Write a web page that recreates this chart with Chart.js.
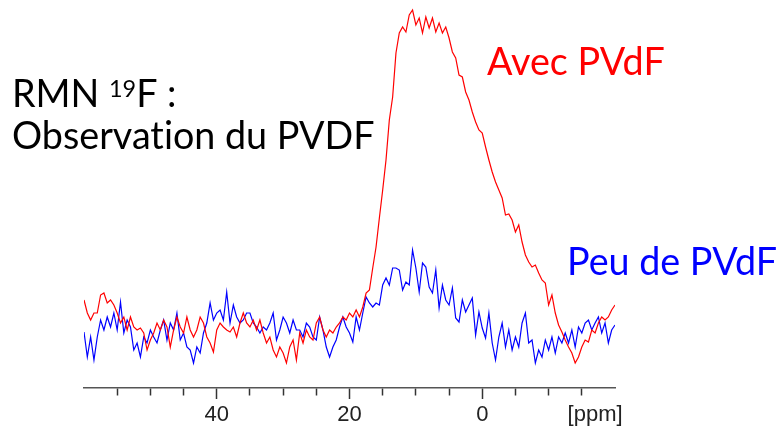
<!DOCTYPE html>
<html lang="fr">
<head>
<meta charset="utf-8">
<title>RMN 19F - PVDF</title>
<script src="https://cdn.jsdelivr.net/npm/chart.js@4.4.0/dist/chart.umd.min.js"></script>
<style>
  html, body { margin: 0; padding: 0; background: #fff; }
  canvas { display: block; }
</style>
</head>
<body>
<canvas id="spectre" width="782" height="429"></canvas>
<script>
// shift axis: 60 -> -20 ppm, one point every 0.5 ppm
const ppmStart = 60;
const ppmStep = -0.5;

// intensities (arbitrary units, 0 = axis line)
const avecPvdf = [
  88,75,68,75,75,93,95,85,88,83,75,65,71,58,71,61,58,60,55,38,48,55,65,58,68,61,41,58,71,61,55,71,58,51,58,71,65,51,45,36,58,65,61,58,56,
  61,51,65,75,65,61,68,58,68,55,45,51,38,31,41,35,25,41,48,28,55,45,58,51,48,65,71,58,51,58,55,61,65,71,68,75,71,78,71,81,95,98,
  120,141,170,198,228,268,291,335,355,361,356,373,378,363,370,355,371,360,370,356,365,355,361,350,336,330,313,311,296,288,276,266,258,255,241,228,
  216,206,198,190,173,174,168,156,163,146,133,126,121,123,115,108,105,83,93,75,63,56,48,41,35,25,31,41,48,46,58,55,65,71,68,71,78,83
];
const peuPvdf = [
  56,31,51,28,51,68,58,71,61,75,58,86,55,68,61,38,45,31,51,45,58,51,45,58,68,48,65,58,75,48,55,41,38,25,41,35,55,65,85,68,75,78,68,96,65,
  83,71,65,68,75,75,65,61,55,61,58,65,75,48,58,71,65,55,68,58,58,51,65,61,51,48,71,58,41,31,41,48,61,71,61,55,46,71,58,75,91,85,
  81,85,83,103,110,103,120,120,118,98,106,103,138,120,96,125,121,101,95,118,80,103,88,83,100,70,66,88,76,83,90,53,76,60,50,75,
  45,28,51,65,41,58,38,51,41,65,75,45,48,25,38,31,48,38,51,35,51,45,55,45,58,41,61,55,65,68,58,65,71,55,65,45,58,63
];

const labelledTicks = [40, 20, 0];
const unitLabel = '[ppm]';
const unitAt = -17;

function toPoints(values) {
  return values.map(function (v, i) { return { x: ppmStart + i * ppmStep, y: v }; });
}

// titles and series names, drawn as plain text on top
// (\u200C keeps Lato from joining "ti")
const textPlugin = {
  id: 'textes',
  afterDraw(chart) {
    const c = chart.ctx;
    const line2 = 'Observat\u200Cion du PVDF';
    c.save();
    c.textBaseline = 'alphabetic';
    c.textAlign = 'left';
    c.font = '36px Lato';
    const size = 36 * 363 / c.measureText(line2).width;
    const big = size.toFixed(1) + 'px Lato';
    const sup = (size * 0.62).toFixed(1) + 'px Lato';

    c.fillStyle = '#000';
    c.font = big;
    let x = 12;
    c.fillText('RMN ', x, 107);
    x += c.measureText('RMN ').width;
    c.font = sup;
    c.fillText('19', x, 97);
    x += c.measureText('19').width;
    c.font = big;
    c.fillText('F :', x, 107);
    c.fillText(line2, 12, 149);

    c.fillStyle = 'rgb(255,0,0)';
    c.fillText('Avec PVdF', 487, 75);
    c.fillStyle = 'rgb(0,0,255)';
    c.fillText('Peu de PVdF', 567, 275);
    c.restore();
  }
};

const ctx = document.getElementById('spectre').getContext('2d');
const chart = new Chart(ctx, {
  type: 'line',
  data: {
    datasets: [
      {
        label: 'Avec PVdF',
        data: toPoints(avecPvdf),
        borderColor: 'rgb(255,0,0)',
        borderWidth: 1.2,
        pointRadius: 0,
        fill: false,
        tension: 0
      },
      {
        label: 'Peu de PVdF',
        data: toPoints(peuPvdf),
        borderColor: 'rgb(0,0,255)',
        borderWidth: 1.2,
        pointRadius: 0,
        fill: false,
        tension: 0
      }
    ]
  },
  options: {
    responsive: false,
    animation: false,
    devicePixelRatio: 1,
    layout: { padding: { left: 84, right: 167, top: 0, bottom: 0 } },
    plugins: {
      legend: { display: false },
      tooltip: { enabled: false }
    },
    scales: {
      x: {
        type: 'linear',
        reverse: true,
        min: -20,
        max: 60,
        afterBuildTicks: function (s) { s.ticks.push({ value: unitAt }); },
        afterFit: function (s) { s.height = 41; },
        ticks: {
          stepSize: 5,
          autoSkip: false,
          maxRotation: 0,
          padding: 3,
          color: '#222',
          font: { family: 'Liberation Sans', size: 22 },
          callback: function (v) {
            if (v === unitAt) return unitLabel;
            return labelledTicks.includes(v) ? String(v) : '';
          }
        },
        grid: {
          drawOnChartArea: false,
          tickLength: 11,
          tickWidth: 1.5,
          tickColor: function (c) {
            const v = c.tick ? c.tick.value : null;
            return (v === unitAt || v === -20 || v === 60) ? 'rgba(0,0,0,0)' : '#333';
          },
          // minor ticks: shorter stroke
          tickBorderDash: function (c) {
            return c.tick && labelledTicks.includes(c.tick.value) ? [] : [7, 30];
          }
        },
        border: { display: true, color: '#555', width: 1.5 }
      },
      y: { display: false, min: 0, max: 388 }
    }
  },
  plugins: [textPlugin]
});
</script>
</body>
</html>
